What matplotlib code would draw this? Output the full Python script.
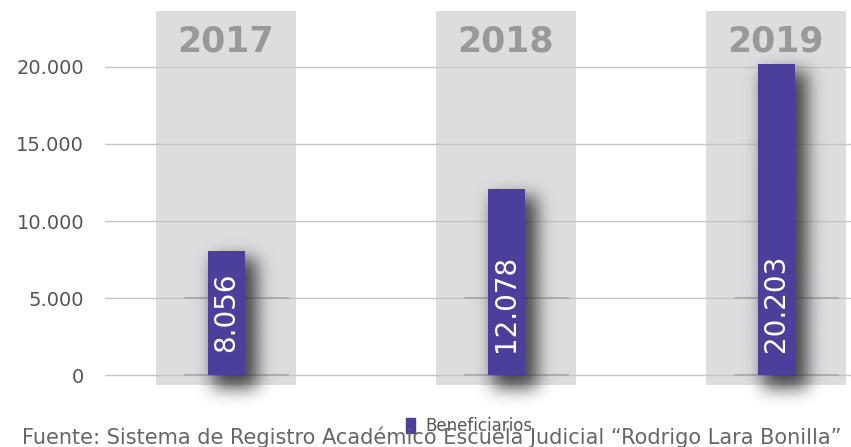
import matplotlib.pyplot as plt
import numpy as np
from matplotlib.patches import Rectangle

# Beneficiarios por año
years = ['2017', '2018', '2019']
beneficiaries = [8056, 12078, 20203]
bar_labels = ['8.056', '12.078', '20.203']
ticks = [0, 5000, 10000, 15000, 20000]
tick_labels = ['0', '5.000', '10.000', '15.000', '20.000']

# layout (x in pixels, y in data units)
centers = [226, 506, 776]
col_w = 140
bar_w = 37
px_y = 5000 / 77.0           # data units per vertical pixel
ymin, ymax = -649, 23636

bar_color = '#4a3f9b'
col_color = '#dcdddf'
grid_color = '#c4c4c4'

plt.rcParams['font.family'] = ['DejaVu Sans']

fig = plt.figure(figsize=(8.51, 4.47), dpi=100)
ax = fig.add_axes([105 / 851, 62 / 447, 746 / 851, 374 / 447])


def gauss_blur(img, sigma):
    r = int(3 * sigma)
    k = np.exp(-0.5 * (np.arange(-r, r + 1) / sigma) ** 2)
    k /= k.sum()
    img = np.apply_along_axis(lambda v: np.convolve(v, k, mode='same'), 0, img)
    img = np.apply_along_axis(lambda v: np.convolve(v, k, mode='same'), 1, img)
    return img


def soft_shadow(ax, xc, value):
    left, right = xc - bar_w / 2, xc + bar_w / 2
    top_px = value / px_y
    pad_l, pad_r, pad_t, pad_b = 35, 60, 35, 50
    w = int(right - left) + pad_l + pad_r
    h = int(top_px) + pad_t + pad_b
    mask = np.zeros((h, w))
    # rows from top to bottom
    r0 = pad_t + 8
    r1 = pad_t + int(top_px) + 13
    c0 = pad_l + 5
    c1 = pad_l + int(right - left) + 12
    mask[r0:r1, c0:c1] = 1.0
    sh = gauss_blur(mask, 8.5)
    rgba = np.zeros((h, w, 4))
    rgba[..., :3] = 0.2
    rgba[..., 3] = np.clip(sh * 0.9, 0, 1)
    extent = (left - pad_l, left - pad_l + w,
              -pad_b * px_y, (top_px + pad_t) * px_y)
    ax.imshow(rgba, extent=extent, origin='upper', aspect='auto',
              interpolation='bilinear', zorder=3, clip_on=False)


for xc in centers:
    ax.add_patch(Rectangle((xc - col_w / 2, ymin), col_w, ymax - ymin,
                           color=col_color, zorder=0, lw=0))

for t in ticks:
    ax.axhline(t, color=grid_color, lw=1, zorder=1)

for xc in centers:
    for t in ticks[:2]:
        ax.plot([xc - 41, xc + 62], [t, t], color='#a9a9a9', lw=1.2, zorder=2)

for xc, v, lab, yr in zip(centers, beneficiaries, bar_labels, years):
    soft_shadow(ax, xc, v)
    ax.bar(xc, v, width=bar_w, color=bar_color, zorder=4)
    ax.text(xc, 23 * px_y, lab, rotation=90, ha='center', va='bottom',
            color='white', fontsize=20, zorder=5)
    ax.text(xc, 21650, yr, ha='center', va='center', color='#98999b',
            fontsize=25, fontweight='bold', zorder=5)

ax.set_xlim(105, 851)
ax.set_ylim(ymin, ymax)
ax.set_yticks(ticks)
ax.set_yticklabels(tick_labels, fontsize=14, color='#555555')
ax.tick_params(axis='y', length=0, pad=15)
ax.set_xticks([])
for s in ax.spines.values():
    s.set_visible(False)

# legend and source
fig.patches.append(Rectangle((406 / 851, 1 - 433 / 447), 9 / 851, 15 / 447,
                             transform=fig.transFigure, color=bar_color))
fig.text(425 / 851, 1 - 426 / 447, 'Beneficiarios', fontsize=12,
         color='#555555', va='center')
fig.text(22 / 851, 1 - 437 / 447,
         'Fuente: Sistema de Registro Académico Escuela Judicial \u201cRodrigo Lara Bonilla\u201d',
         fontsize=15, color='#666666', va='center')

fig.savefig('out.png', dpi=100)
